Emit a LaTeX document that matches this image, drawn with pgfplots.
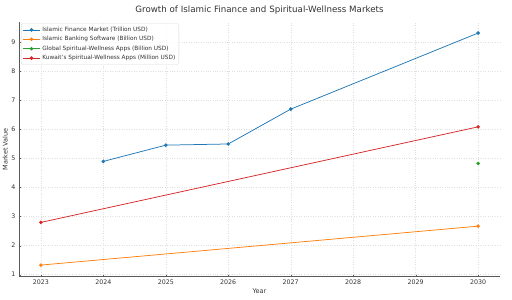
\documentclass[border=0pt]{standalone}
\usepackage{pgfplots}
\pgfplotsset{compat=1.18}
\usepackage{fontspec}
\setmainfont{DejaVu Sans}
\definecolor{tabblue}{HTML}{1F77B4}
\definecolor{taborange}{HTML}{FF7F0E}
\definecolor{tabgreen}{HTML}{2CA02C}
\definecolor{tabred}{HTML}{D62728}
\begin{document}
\begin{tikzpicture}
\useasboundingbox (0,0) rectangle (512bp,300bp);
\begin{axis}[
  at={(19bp,23.3bp)}, anchor=south west,
  scale only axis, width=481bp, height=254.7bp,
  xmin=2022.65, xmax=2030.35, ymin=0.93, ymax=9.7,
  xtick={2023,...,2030}, ytick={1,...,9},
  xticklabel style={/pgf/number format/1000 sep={}},
  /pgf/number format/assume math mode=true,
  tick label style={font=\fontsize{6.3bp}{7bp}\selectfont, text=black!80},
  axis x line*=bottom, axis y line*=left,
  axis line style={black!65, line width=0.6pt},
  tick style={black!65},
  major tick length=2bp,
  grid=major, grid style={dotted, gray!25, line width=0.4pt},
  xlabel={Year}, ylabel={Market Value},
  label style={font=\fontsize{6.5bp}{7.5bp}\selectfont, text=black!80},
  xlabel style={yshift=3bp},
  ylabel style={yshift=-3bp},
  title={Growth of Islamic Finance and Spiritual-Wellness Markets},
  title style={font=\fontsize{8.7bp}{10bp}\selectfont, text=black!80, yshift=-2bp},
  legend style={at={(0.004,0.995)}, anchor=north west, draw=gray!30, rounded corners=1.5pt,
    font=\fontsize{5.8bp}{7bp}\selectfont, text=black!80, inner sep=1.5bp, row sep=-0.5bp,
    fill=white, fill opacity=0.85, text opacity=1},
  legend cell align=left,
  every axis plot/.append style={line width=0.75pt, mark=*, mark size=1.4bp},
]
\addplot[color=tabblue, mark options={fill=tabblue}] coordinates {(2024,4.9) (2025,5.46) (2026,5.5) (2027,6.7) (2030,9.32)};
\addlegendentry{Islamic Finance Market (Trillion USD)}
\addplot[color=taborange, mark options={fill=taborange}] coordinates {(2023,1.33) (2030,2.67)};
\addlegendentry{Islamic Banking Software (Billion USD)}
\addplot[color=tabgreen, mark options={fill=tabgreen}] coordinates {(2030,4.83)};
\addlegendentry{Global Spiritual-Wellness Apps (Billion USD)}
\addplot[color=tabred, mark options={fill=tabred}] coordinates {(2023,2.8) (2030,6.09)};
\addlegendentry{Kuwait's Spiritual-Wellness Apps (Million USD)}
\end{axis}
\end{tikzpicture}
\end{document}
